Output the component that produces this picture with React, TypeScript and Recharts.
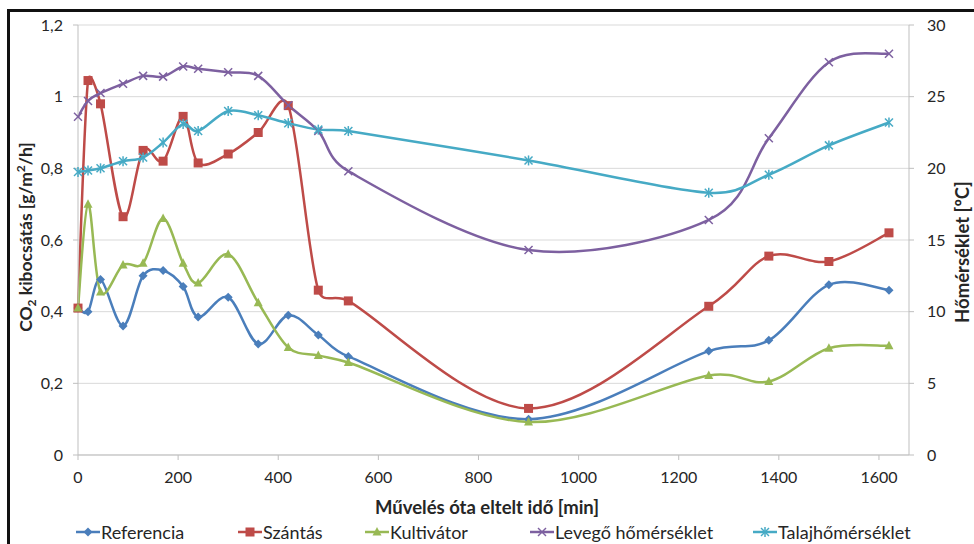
import React from 'react'
import { LineChart, Line, XAxis, YAxis, CartesianGrid } from 'recharts'

// mérési időpontok [min]
const ido = [0, 20, 45, 90, 130, 170, 210, 240, 300, 360, 420, 480, 540, 900, 1260, 1380, 1500, 1620]

// CO2 kibocsátás [g/m2/h]
const referencia = [0.41, 0.4, 0.49, 0.36, 0.5, 0.515, 0.47, 0.385, 0.44, 0.31, 0.39, 0.335, 0.275, 0.1, 0.29, 0.32, 0.475, 0.46]
const szantas = [0.41, 1.045, 0.98, 0.665, 0.85, 0.82, 0.945, 0.815, 0.84, 0.9, 0.975, 0.46, 0.43, 0.13, 0.415, 0.555, 0.54, 0.62]
const kultivator = [0.41, 0.7, 0.455, 0.53, 0.535, 0.66, 0.535, 0.48, 0.56, 0.425, 0.3, 0.278, 0.258, 0.092, 0.222, 0.205, 0.298, 0.305]

// hőmérséklet [ºC]
const levego = [23.6, 24.7, 25.25, 25.9, 26.45, 26.4, 27.1, 26.95, 26.7, 26.45, 24.4, 22.6, 19.8, 14.3, 16.4, 22.1, 27.4, 28.0]
const talaj = [19.75, 19.85, 20.0, 20.5, 20.75, 21.8, 23.1, 22.6, 24.0, 23.7, 23.15, 22.7, 22.6, 20.55, 18.3, 19.55, 21.6, 23.2]

const xTicks = [0, 200, 400, 600, 800, 1000, 1200, 1400, 1600]
const co2Ticks = [0, 0.2, 0.4, 0.6, 0.8, 1, 1.2]
const tempTicks = [0, 5, 10, 15, 20, 25, 30]

const chartData = ido.map((t, i) => ({
  t,
  referencia: referencia[i],
  szantas: szantas[i],
  kultivator: kultivator[i],
  levego: levego[i],
  talaj: talaj[i]
}))

type Shape = 'diamond' | 'square' | 'triangle' | 'x' | 'star'

const series: { key: string; name: string; color: string; shape: Shape; axis: string }[] = [
  { key: 'referencia', name: 'Referencia', color: '#4a7ebb', shape: 'diamond', axis: 'co2' },
  { key: 'szantas', name: 'Szántás', color: '#be4b48', shape: 'square', axis: 'co2' },
  { key: 'kultivator', name: 'Kultivátor', color: '#98b954', shape: 'triangle', axis: 'co2' },
  { key: 'levego', name: 'Levegő hőmérséklet', color: '#7d60a0', shape: 'x', axis: 'temp' },
  { key: 'talaj', name: 'Talajhőmérséklet', color: '#46aac5', shape: 'star', axis: 'temp' }
]

// legend item left edges, as in the original layout
const legendLeft = [76, 238, 365, 530, 753]

const FONT = 'Lato, "Open Sans", sans-serif'
const TEXT = '#262626'

// Excel-style smoothed line: Catmull-Rom bezier, control arms capped at half the segment
const excelSmooth: any = (context: any) => {
  let pts: number[][] = []
  const arm = (a: number[], b: number[], segLen: number) => {
    let dx = (b[0] - a[0]) / 6
    let dy = (b[1] - a[1]) / 6
    const len = Math.hypot(dx, dy)
    const max = segLen / 2
    if (len > max && len > 0) {
      dx *= max / len
      dy *= max / len
    }
    return [dx, dy]
  }
  return {
    areaStart() {},
    areaEnd() {},
    lineStart() {
      pts = []
    },
    lineEnd() {
      const n = pts.length
      if (!n) return
      context.moveTo(pts[0][0], pts[0][1])
      for (let i = 0; i < n - 1; i++) {
        const p0 = pts[Math.max(i - 1, 0)]
        const p1 = pts[i]
        const p2 = pts[i + 1]
        const p3 = pts[Math.min(i + 2, n - 1)]
        const seg = Math.hypot(p2[0] - p1[0], p2[1] - p1[1])
        const a1 = arm(p0, p2, seg)
        const a2 = arm(p1, p3, seg)
        context.bezierCurveTo(p1[0] + a1[0], p1[1] + a1[1], p2[0] - a2[0], p2[1] - a2[1], p2[0], p2[1])
      }
    },
    point(x: number, y: number) {
      pts.push([x, y])
    }
  }
}

const Marker = ({ shape, cx, cy, color }: { shape: Shape; cx: number; cy: number; color: string }) => {
  if (cx == null || cy == null) return null
  switch (shape) {
    case 'diamond':
      return <polygon points={`${cx},${cy - 4.5} ${cx + 4.5},${cy} ${cx},${cy + 4.5} ${cx - 4.5},${cy}`} fill={color} />
    case 'square':
      return <rect x={cx - 4.5} y={cy - 4.5} width={9} height={9} fill={color} />
    case 'triangle':
      return <polygon points={`${cx},${cy - 5} ${cx + 4.5},${cy + 3.5} ${cx - 4.5},${cy + 3.5}`} fill={color} />
    case 'x':
      return (
        <g stroke={color} strokeWidth={1.5}>
          <line x1={cx - 4} y1={cy - 4} x2={cx + 4} y2={cy + 4} />
          <line x1={cx - 4} y1={cy + 4} x2={cx + 4} y2={cy - 4} />
        </g>
      )
    default:
      return (
        <g stroke={color} strokeWidth={1.5}>
          <line x1={cx - 4} y1={cy - 4} x2={cx + 4} y2={cy + 4} />
          <line x1={cx - 4} y1={cy + 4} x2={cx + 4} y2={cy - 4} />
          <line x1={cx} y1={cy - 5} x2={cx} y2={cy + 5} />
        </g>
      )
  }
}

const fmtComma = (v: number) => String(Math.round(v * 10) / 10).replace('.', ',')

const tickStyle = { fontSize: 16, fill: TEXT, fontFamily: FONT }

const titleStyle: React.CSSProperties = {
  position: 'absolute',
  whiteSpace: 'nowrap',
  fontFamily: FONT,
  fontWeight: 700,
  color: TEXT
}

export default function App() {
  return (
    <div style={{ position: 'absolute', left: 0, top: 0, width: 974, height: 544, background: '#fff', overflow: 'hidden' }}>
      <div
        style={{
          position: 'absolute',
          left: 7,
          top: 9,
          width: 980,
          height: 560,
          borderTop: '3px solid #111',
          borderLeft: '3px solid #111'
        }}
      />
      <LineChart
        width={974}
        height={544}
        data={chartData}
        margin={{ top: 25, left: 28, right: 15, bottom: 59 }}
        style={{ position: 'absolute', left: 0, top: 0 }}
      >
        <CartesianGrid yAxisId="co2" vertical={false} stroke="#d9d9d9" strokeWidth={1} />
        <XAxis
          dataKey="t"
          type="number"
          domain={[0, 1660]}
          ticks={xTicks}
          height={30}
          tickSize={5}
          tickMargin={12}
          stroke="#bfbfbf"
          tick={tickStyle}
        />
        <YAxis
          yAxisId="co2"
          domain={[0, 1.2]}
          ticks={co2Ticks}
          width={50}
          tickSize={5}
          tickMargin={10}
          stroke="#bfbfbf"
          tick={tickStyle}
          tickFormatter={fmtComma}
        />
        <YAxis
          yAxisId="temp"
          orientation="right"
          domain={[0, 30]}
          ticks={tempTicks}
          width={50}
          tickSize={5}
          tickMargin={13}
          stroke="#bfbfbf"
          tick={{ ...tickStyle, textAnchor: 'start' }}
        />
        {series.map(s => (
          <Line
            key={s.key}
            yAxisId={s.axis}
            dataKey={s.key}
            name={s.name}
            type={excelSmooth}
            stroke={s.color}
            strokeWidth={2.5}
            isAnimationActive={false}
            dot={(p: any) => <Marker key={`${s.key}-${p.index}`} shape={s.shape} cx={p.cx} cy={p.cy} color={s.color} />}
            activeDot={false}
          />
        ))}
      </LineChart>

      {/* axis titles */}
      <div style={{ ...titleStyle, left: 487, top: 507, fontSize: 18.5, transform: 'translate(-50%, -50%)' }}>
        Művelés óta eltelt idő [min]
      </div>
      <div style={{ ...titleStyle, left: 26, top: 237, fontSize: 17.5, transform: 'translate(-50%, -50%) rotate(-90deg)' }}>
        CO<sub style={{ fontSize: 12 }}>2</sub> kibocsátás [g/m<sup style={{ fontSize: 12 }}>2</sup>/h]
      </div>
      <div style={{ ...titleStyle, left: 962, top: 252, fontSize: 18.5, transform: 'translate(-50%, -50%) rotate(-90deg)' }}>
        Hőmérséklet [ºC]
      </div>

      {/* legend */}
      {series.map((s, i) => (
        <div
          key={s.key}
          style={{
            position: 'absolute',
            left: legendLeft[i],
            top: 521,
            height: 22,
            lineHeight: '22px',
            display: 'flex',
            alignItems: 'center',
            whiteSpace: 'nowrap',
            fontFamily: FONT,
            fontSize: 18,
            color: TEXT
          }}
        >
          <svg width={24} height={14} style={{ marginRight: 1 }}>
            <line x1={0} y1={7} x2={24} y2={7} stroke={s.color} strokeWidth={2.5} />
            <Marker shape={s.shape} cx={12} cy={7} color={s.color} />
          </svg>
          {s.name}
        </div>
      ))}
    </div>
  )
}
